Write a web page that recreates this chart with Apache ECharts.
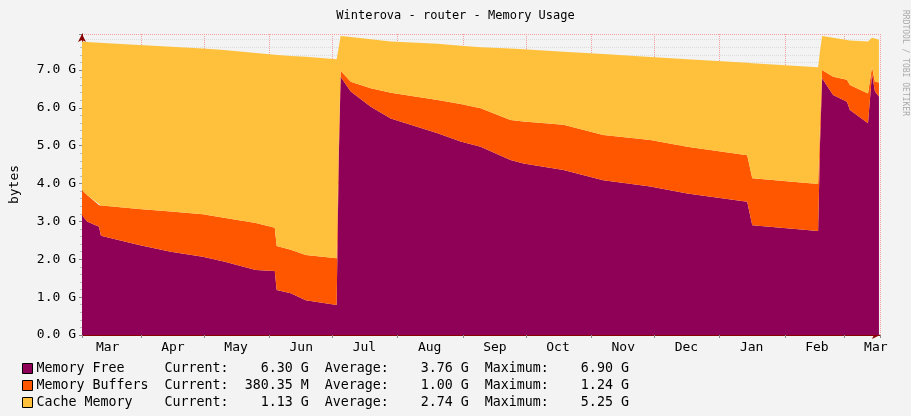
<!DOCTYPE html>
<html>
<head>
<meta charset="utf-8">
<script src="https://cdn.jsdelivr.net/npm/echarts@6/dist/echarts.min.js"></script>
<style>html,body{margin:0;padding:0;background:#f3f3f3;}#chart{width:911px;height:416px;}</style>
</head>
<body>
<div id="chart"></div>
<script>
/* sample positions: days after 4 Mar 2013 */
var days = [0, 2.4, 8.1, 9.0, 27.1, 42.2, 57.4, 67.4, 82.6, 91.6, 92.5, 99.2, 106.3, 121.0, 122.0, 122.9, 127.7, 137.2, 146.7, 169.0,
  179.9, 189.4, 203.6, 209.8, 228.8, 247.7, 270.1, 287.6, 316.1, 318.5, 349.8, 350.7, 351.7, 356.9, 363.5, 364.9, 373.5, 375.4, 376.8, 378.7];
/* values in GB */
var memFree = [3.17, 3.00, 2.86, 2.62, 2.38, 2.20, 2.07, 1.94, 1.72, 1.69, 1.19, 1.10, 0.92, 0.79, 4.62, 6.82, 6.43, 6.03, 5.72, 5.33,
  5.11, 4.97, 4.62, 4.53, 4.36, 4.09, 3.92, 3.74, 3.52, 2.90, 2.75, 5.07, 6.78, 6.34, 6.16, 5.94, 5.59, 6.90, 6.43, 6.30];
var memBuffers = [0.66, 0.70, 0.57, 0.80, 0.95, 1.06, 1.12, 1.16, 1.24, 1.14, 1.16, 1.15, 1.19, 1.24, 0.53, 0.16, 0.26, 0.49, 0.68, 0.88,
  0.99, 1.02, 1.06, 1.11, 1.19, 1.19, 1.23, 1.23, 1.23, 1.24, 1.24, 0.53, 0.22, 0.48, 0.58, 0.66, 0.79, 0.17, 0.26, 0.37];
var memCache = [3.92, 4.04, 4.29, 4.30, 4.33, 4.35, 4.38, 4.43, 4.49, 4.57, 5.05, 5.12, 5.24, 5.25, 2.45, 0.92, 1.18, 1.29, 1.35, 1.48,
  1.54, 1.61, 1.89, 1.91, 1.93, 2.14, 2.19, 2.31, 2.44, 3.04, 3.08, 1.90, 0.90, 1.03, 1.05, 1.18, 1.37, 0.78, 1.14, 1.13];
var legendText = {
  'Memory Free':    'Memory Free     Current:    6.30 G  Average:    3.76 G  Maximum:    6.90 G',
  'Memory Buffers': 'Memory Buffers  Current:  380.35 M  Average:    1.00 G  Maximum:    1.24 G',
  'Cache Memory':   'Cache Memory    Current:    1.13 G  Average:    2.74 G  Maximum:    5.25 G'
};

var DAY = 86400000;
var start = new Date(2013, 2, 4).getTime();
var end = start + 379.2 * DAY;
var shift = 15.2 * DAY;
var mono = 'DejaVu Sans Mono';

function pts(arr) {
  return arr.map(function (v, i) { return [start + days[i] * DAY, v]; });
}
function ser(name, arr, color) {
  return {
    name: name, type: 'line', stack: 'mem', data: pts(arr), symbol: 'none',
    lineStyle: { width: 0 }, areaStyle: { color: color, opacity: 1 }, itemStyle: { color: color },
    z: 1
  };
}

var chart = echarts.init(document.getElementById('chart'));
chart.setOption({
  backgroundColor: '#f3f3f3',
  animation: false,
  textStyle: { fontFamily: mono },
  title: {
    text: 'Winterova - router - Memory Usage', left: 'center', top: 5,
    textStyle: { fontFamily: mono, fontSize: 12, fontWeight: 'normal', color: '#000' }
  },
  graphic: [{
    type: 'text', right: 2, top: 10, rotation: -Math.PI / 2,
    style: { text: 'RRDTOOL / TOBI OETIKER', fontFamily: mono, fontSize: 8, fill: '#aaa' }
  }],
  grid: { left: 76, right: 31, top: 34, bottom: 81 },
  legend: {
    orient: 'vertical', left: 17, top: 357, height: 56, width: 800, itemGap: 4, itemWidth: 10, itemHeight: 10,
    icon: 'rect', selectedMode: false,
    itemStyle: { borderColor: '#000', borderWidth: 1 },
    textStyle: { fontFamily: mono, fontSize: 13.3, color: '#000', padding: [0, 0, 0, -1] },
    formatter: function (n) { return legendText[n]; },
    data: ['Memory Free', 'Memory Buffers', 'Cache Memory']
  },
  xAxis: [{
    type: 'time', min: start, max: end,
    minInterval: 28 * DAY, maxInterval: 31 * DAY,
    axisLine: { lineStyle: { color: '#800', width: 1 }, symbol: ['none', 'arrow'], symbolSize: [6, 8] },
    axisTick: { lineStyle: { color: '#888' }, length: 3 },
    axisLabel: { show: false },
    splitLine: { show: true, lineStyle: { color: '#f4a0a0', type: 'dotted' } }
  }, {
    type: 'time', min: start - shift, max: end - shift, position: 'bottom',
    minInterval: 28 * DAY, maxInterval: 31 * DAY,
    axisLine: { show: false }, axisTick: { show: false }, splitLine: { show: false },
    axisLabel: { formatter: '{MMM}', fontFamily: mono, fontSize: 13, color: '#000', margin: 6 }
  }],
  yAxis: {
    type: 'value', min: 0, max: 7.95, interval: 1,
    name: 'bytes', nameLocation: 'middle', nameGap: 61, nameRotate: 90,
    nameTextStyle: { fontFamily: mono, fontSize: 13, color: '#000' },
    axisLine: { show: true, lineStyle: { color: '#800' }, symbol: ['none', 'arrow'], symbolSize: [6, 8] },
    axisTick: { show: true, length: 3, lineStyle: { color: '#888' } },
    minorTick: { show: true, splitNumber: 5, length: 2, lineStyle: { color: '#bbb' } },
    axisLabel: {
      fontFamily: mono, fontSize: 13, color: '#000', showMaxLabel: false, margin: 6,
      formatter: function (v) { return v.toFixed(1) + ' G'; }
    },
    splitLine: { show: true, lineStyle: { color: '#f4a0a0', type: 'dotted' } },
    minorSplitLine: { show: true, lineStyle: { color: '#ddd', type: 'dotted' } }
  },
  series: [
    ser('Memory Free', memFree, '#8f0057'),
    ser('Memory Buffers', memBuffers, '#ff5700'),
    ser('Cache Memory', memCache, '#ffc13b')
  ]
});
</script>
</body>
</html>
